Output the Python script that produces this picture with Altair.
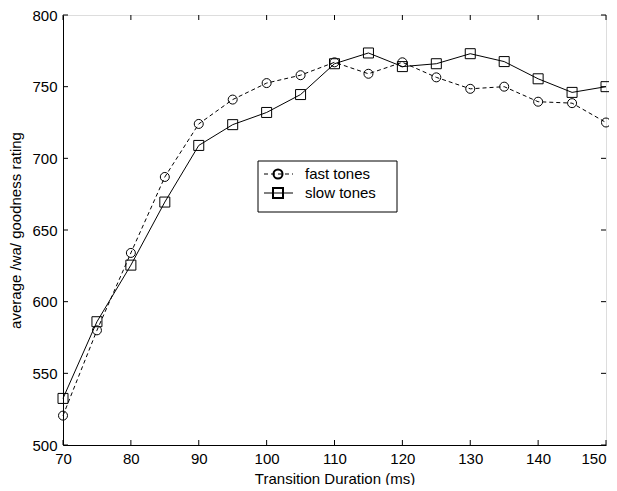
import altair as alt
import pandas as pd

durations = [70, 75, 80, 85, 90, 95, 100, 105, 110, 115, 120, 125, 130, 135, 140, 145, 150]
fast_tones = [520.5, 580, 634, 687, 724, 741, 752.5, 758, 767, 759, 767, 756.5, 748.5, 750, 739.5, 738.5, 725]
slow_tones = [532.5, 586, 625.5, 669.5, 709, 723.5, 732, 744.5, 766, 773.5, 764, 766, 773, 767.5, 755.5, 746, 750]
x_ticks = [70, 80, 90, 100, 110, 120, 130, 140, 150]
y_ticks = [500, 550, 600, 650, 700, 750, 800]

FONT = "Liberation Sans"
W, H = 543, 430

df = pd.DataFrame({"duration": durations, "fast": fast_tones, "slow": slow_tones})
xt = pd.DataFrame({"t": x_ticks})
yt = pd.DataFrame({"t": y_ticks})

xscale = alt.Scale(domain=[70, 150], nice=False, zero=False)
yscale = alt.Scale(domain=[500, 800], nice=False, zero=False)

xaxis = alt.Axis(values=x_ticks, tickSize=0, labelPadding=6, grid=False, domainColor="black",
                 labelColor="black", labelFont=FONT, labelFontSize=15, title="Transition Duration (ms)",
                 titleFont=FONT, titleFontSize=15, titleFontWeight="normal", titleColor="black",
                 titlePadding=5, labelFlush=False,
                 labelAlign=alt.ExprRef(expr="datum.value >= 150 ? 'right' : 'center'"))
yaxis = alt.Axis(values=y_ticks, tickSize=0, labelPadding=6, grid=False, domainColor="black",
                 labelColor="black", labelFont=FONT, labelFontSize=15, title="average /wa/ goodness rating",
                 titleFont=FONT, titleFontSize=15, titleFontWeight="normal", titleColor="black",
                 titlePadding=8, labelFlush=False)

base = alt.Chart(df)

fast_line = base.mark_line(color="black", strokeWidth=1, strokeDash=[4, 3]).encode(
    x=alt.X("duration:Q", scale=xscale, axis=xaxis),
    y=alt.Y("fast:Q", scale=yscale, axis=yaxis),
)
fast_pts = base.mark_point(shape="circle", size=81, filled=False, color="black", strokeWidth=1, opacity=1).encode(
    x=alt.X("duration:Q", scale=xscale), y=alt.Y("fast:Q", scale=yscale)
)
slow_line = base.mark_line(color="black", strokeWidth=1).encode(
    x=alt.X("duration:Q", scale=xscale), y=alt.Y("slow:Q", scale=yscale)
)
slow_pts = base.mark_point(shape="square", size=100, filled=False, color="black", strokeWidth=1, opacity=1).encode(
    x=alt.X("duration:Q", scale=xscale), y=alt.Y("slow:Q", scale=yscale)
)

# inward ticks on all four sides
TL = 5
xt_bottom = alt.Chart(xt).mark_rule(color="black", strokeWidth=1).encode(
    x=alt.X("t:Q", scale=xscale), y=alt.value(H), y2=alt.value(H - TL))
xt_top = alt.Chart(xt).mark_rule(color="black", strokeWidth=1).encode(
    x=alt.X("t:Q", scale=xscale), y=alt.value(0), y2=alt.value(TL))
yt_left = alt.Chart(yt).mark_rule(color="black", strokeWidth=1).encode(
    y=alt.Y("t:Q", scale=yscale), x=alt.value(0), x2=alt.value(TL))
yt_right = alt.Chart(yt).mark_rule(color="black", strokeWidth=1).encode(
    y=alt.Y("t:Q", scale=yscale), x=alt.value(W), x2=alt.value(W - TL))

# manual legend
one = pd.DataFrame({"k": [0]})
lx0, lx1, ly0, ly1 = 195, 334, 146, 197
r1, r2 = 159, 178
legend_box = alt.Chart(one).mark_rect(fill="white", stroke="black", strokeWidth=1).encode(
    x=alt.value(lx0), x2=alt.value(lx1), y=alt.value(ly0), y2=alt.value(ly1))
leg_fast_line = alt.Chart(one).mark_rule(color="black", strokeWidth=1, strokeDash=[4, 3]).encode(
    x=alt.value(201), x2=alt.value(230), y=alt.value(r1))
leg_fast_pt = alt.Chart(one).mark_point(shape="circle", size=81, filled=False, color="black", opacity=1).encode(
    x=alt.value(215), y=alt.value(r1))
leg_slow_line = alt.Chart(one).mark_rule(color="black", strokeWidth=1).encode(
    x=alt.value(201), x2=alt.value(230), y=alt.value(r2))
leg_slow_pt = alt.Chart(one).mark_point(shape="square", size=100, filled=False, color="black", opacity=1).encode(
    x=alt.value(215), y=alt.value(r2))
leg_fast_txt = alt.Chart(one).mark_text(align="left", baseline="middle", font=FONT, fontSize=15, color="black").encode(
    x=alt.value(242), y=alt.value(r1), text=alt.value("fast tones"))
leg_slow_txt = alt.Chart(one).mark_text(align="left", baseline="middle", font=FONT, fontSize=15, color="black").encode(
    x=alt.value(242), y=alt.value(r2), text=alt.value("slow tones"))

chart = alt.layer(
    fast_line, slow_line, fast_pts, slow_pts,
    xt_bottom, xt_top, yt_left, yt_right,
    legend_box, leg_fast_line, leg_slow_line, leg_fast_pt, leg_slow_pt, leg_fast_txt, leg_slow_txt,
).properties(
    width=W, height=H,
    autosize=alt.AutoSizeParams(type="none"),
    padding={"left": 55, "top": 7, "right": 3, "bottom": 40},
).configure_view(stroke="black", strokeWidth=1).configure(background="white")

chart.save("out.html", embed_options={"renderer": "svg", "actions": False})
